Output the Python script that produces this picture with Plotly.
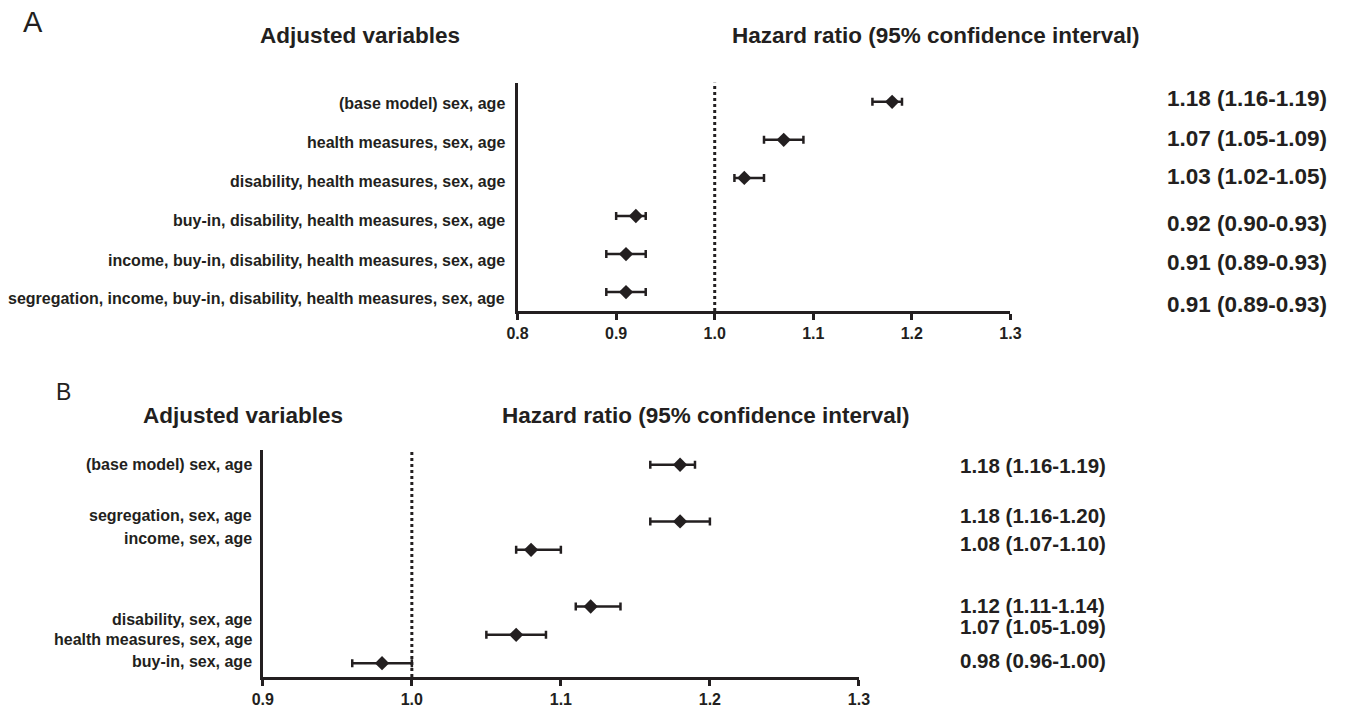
import plotly.graph_objects as go

# ---------------- data ----------------
labels_a = [
    "(base model) sex, age",
    "health measures, sex, age",
    "disability, health measures, sex, age",
    "buy-in, disability, health measures, sex, age",
    "income, buy-in, disability, health measures, sex, age",
    "segregation, income, buy-in, disability, health measures, sex, age",
]
hr_a = [1.18, 1.07, 1.03, 0.92, 0.91, 0.91]
lo_a = [1.16, 1.05, 1.02, 0.90, 0.89, 0.89]
hi_a = [1.19, 1.09, 1.05, 0.93, 0.93, 0.93]

labels_b = [
    "(base model) sex, age",
    "segregation, sex, age",
    "income, sex, age",
    "disability, sex, age",
    "health measures, sex, age",
    "buy-in, sex, age",
]
hr_b = [1.18, 1.18, 1.08, 1.12, 1.07, 0.98]
lo_b = [1.16, 1.16, 1.07, 1.11, 1.05, 0.96]
hi_b = [1.19, 1.20, 1.10, 1.14, 1.09, 1.00]

ticks_a = [0.8, 0.9, 1.0, 1.1, 1.2, 1.3]
ticks_b = [0.9, 1.0, 1.1, 1.2, 1.3]

# ---------------- layout helpers ----------------
row_a = [5, 4, 3, 2, 1, 0]
row_b = [7, 5, 4, 2, 1, 0]
lab_shift_a = [-2, -3, -4, -5, -6, -6]
val_shift_a = [3, 1, 1, -8, -8, -12]
lab_shift_b = [0, 6, 11, -13, -5, 2]
val_shift_b = [-1, 6, 6, 1, 8, 3]

W, H = 1347, 708
FONT = "Liberation Sans, Arial, Helvetica, sans-serif"
INK = "#231f20"


def px(x):
    return x / W


def py(y):
    return 1 - y / H


def fmt(v, l, h):
    return f"{v:.2f} ({l:.2f}-{h:.2f})"


fig = go.Figure()

for xs, lo, hi, rows, xa, ya in ((hr_a, lo_a, hi_a, row_a, "x", "y"),
                                 (hr_b, lo_b, hi_b, row_b, "x2", "y2")):
    fig.add_trace(go.Scatter(
        x=xs, y=rows, mode="markers", xaxis=xa, yaxis=ya,
        marker=dict(symbol="diamond", size=11, color=INK),
        error_x=dict(type="data", symmetric=False,
                     array=[h - v for h, v in zip(hi, xs)],
                     arrayminus=[v - l for v, l in zip(xs, lo)],
                     thickness=2.5, width=4, color=INK),
        showlegend=False, hoverinfo="skip"))

xaxis_common = dict(showline=True, linecolor=INK, linewidth=2.5, ticks="outside",
                    ticklen=6, tickwidth=2.5, tickcolor=INK, showgrid=False, zeroline=False,
                    tickformat=".1f", tickfont=dict(family=FONT, size=16, color=INK, weight="bold"))
yaxis_common = dict(showline=True, linecolor=INK, linewidth=2.5, ticks="", showticklabels=False,
                    showgrid=False, zeroline=False)

fig.update_layout(
    width=W, height=H, margin=dict(l=0, r=0, t=0, b=0),
    plot_bgcolor="white", paper_bgcolor="white",
    xaxis=dict(domain=[px(515), px(1016)], range=[0.8, 1.3], tickvals=ticks_a,
               anchor="y", **xaxis_common),
    yaxis=dict(domain=[py(312), py(83)], range=[-0.5, 5.5], anchor="x", **yaxis_common),
    xaxis2=dict(domain=[px(256), px(862)], range=[0.9, 1.3], tickvals=ticks_b,
                anchor="y2", **xaxis_common),
    yaxis2=dict(domain=[py(679), py(451)], range=[-0.49, 7.53], anchor="x2", **yaxis_common),
)

# reference lines at HR = 1
for xr, yr in (("x", "y domain"), ("x2", "y2 domain")):
    fig.add_shape(type="line", xref=xr, yref=yr, x0=1.0, x1=1.0, y0=0, y1=1,
                  line=dict(color=INK, width=3, dash="dot"))

ann = []


def text(x, y, s, size, bold=True, xanchor="center", yref="paper", yshift=0):
    ann.append(dict(x=x, y=y, xref="paper", yref=yref, text=s, showarrow=False,
                    xanchor=xanchor, yanchor="middle", yshift=yshift,
                    font=dict(family=FONT, size=size, color=INK,
                              weight="bold" if bold else "normal")))


# Panel A
text(px(22), py(22), "A", 29, bold=False)
text(px(355), py(36), "Adjusted variables", 22.5)
text(px(940), py(36), "Hazard ratio (95% confidence interval)", 22.5)
for lab, r, s in zip(labels_a, row_a, lab_shift_a):
    text(px(504), r, lab, 16, xanchor="right", yref="y", yshift=s)
for v, l, h, r, s in zip(hr_a, lo_a, hi_a, row_a, val_shift_a):
    text(px(1173), r, fmt(v, l, h), 22.5, xanchor="left", yref="y", yshift=s)

# Panel B
text(px(53), py(393), "B", 23, bold=False)
text(px(236), py(417), "Adjusted variables", 22.5)
text(px(707), py(417), "Hazard ratio (95% confidence interval)", 22.5)
for lab, r, s in zip(labels_b, row_b, lab_shift_b):
    text(px(247), r, lab, 16, xanchor="right", yref="y2", yshift=s)
for v, l, h, r, s in zip(hr_b, lo_b, hi_b, row_b, val_shift_b):
    text(px(963), r, fmt(v, l, h), 20.5, xanchor="left", yref="y2", yshift=s)

fig.update_layout(annotations=ann)

fig.write_html("out.html",
               config={"displayModeBar": False},
               post_script="document.body.style.margin='0px';"
                           "document.body.style.overflow='hidden';")
